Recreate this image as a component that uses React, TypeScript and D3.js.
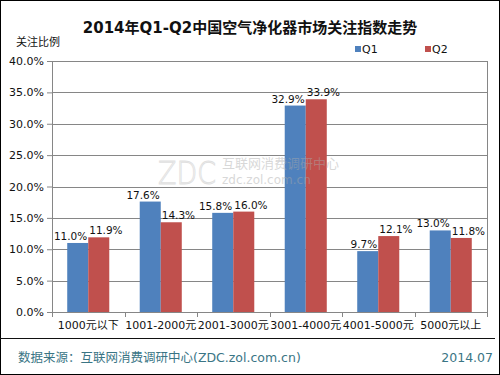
import React, { useEffect, useRef } from 'react';
import * as d3 from 'd3';

const categories = ['1000元以下', '1001-2000元', '2001-3000元', '3001-4000元', '4001-5000元', '5000元以上'];
const seriesNames = ['Q1', 'Q2'];
const q1Values = [11.0, 17.6, 15.8, 32.9, 9.7, 13.0];
const q2Values = [11.9, 14.3, 16.0, 33.9, 12.1, 11.8];
const yTicks = [0, 5, 10, 15, 20, 25, 30, 35, 40];
const colors = ['#4F81BD', '#C0504D'];

const FONT = '"DejaVu Sans", "Noto Sans CJK SC", sans-serif';

function App() {
  const ref = useRef<SVGSVGElement>(null);

  useEffect(() => {
    const svg = d3.select(ref.current);
    svg.selectAll('*').remove();

    const width = 500;
    const height = 375;
    const margin = { top: 61, right: 13, bottom: 63, left: 52 };
    const innerW = width - margin.left - margin.right;
    const innerH = height - margin.top - margin.bottom;

    svg.append('rect')
      .attr('x', 0.5).attr('y', 0.5)
      .attr('width', width - 1).attr('height', height - 1)
      .attr('fill', '#fff').attr('stroke', '#000');

    svg.append('text')
      .attr('x', 250).attr('y', 33)
      .attr('text-anchor', 'middle')
      .attr('font-family', FONT)
      .attr('font-size', 15).attr('font-weight', 'bold')
      .attr('fill', '#111')
      .text('2014年Q1-Q2中国空气净化器市场关注指数走势');

    svg.append('text')
      .attr('x', 16).attr('y', 46)
      .attr('font-family', FONT)
      .attr('font-size', 11)
      .attr('fill', '#111')
      .text('关注比例');

    const g = svg.append('g').attr('transform', `translate(${margin.left},${margin.top})`);

    const x0 = d3.scaleBand().domain(categories).range([0, innerW]).paddingInner(0.42).paddingOuter(0.21);
    const x1 = d3.scaleBand().domain(seriesNames).range([0, x0.bandwidth()]);
    const y = d3.scaleLinear().domain([0, 40]).range([innerH, 0]);

    // grid
    g.selectAll('line.grid')
      .data(yTicks)
      .join('line')
      .attr('x1', 0).attr('x2', innerW)
      .attr('y1', d => Math.round(y(d)) + 0.5).attr('y2', d => Math.round(y(d)) + 0.5)
      .attr('stroke', '#868686');

    g.append('line')
      .attr('x1', innerW + 0.5).attr('x2', innerW + 0.5)
      .attr('y1', 0).attr('y2', innerH)
      .attr('stroke', '#868686');

    const yAxis = g.append('g')
      .call(d3.axisLeft(y).tickValues(yTicks).tickSize(5).tickFormat(d => (d as number).toFixed(1) + '%'));
    yAxis.select('.domain').attr('stroke', '#868686');
    yAxis.selectAll('line').attr('stroke', '#868686');
    yAxis.selectAll('text').attr('font-family', FONT).attr('font-size', 11).attr('fill', '#111');

    // watermark
    const wm = svg.append('g').attr('opacity', 0.45);
    wm.append('text').attr('x', 158).attr('y', 184)
      .attr('font-family', FONT).attr('font-size', 32).attr('font-weight', 100)
      .attr('textLength', 58).attr('lengthAdjust', 'spacingAndGlyphs')
      .attr('fill', 'none').attr('stroke', '#bbb').attr('stroke-width', 1)
      .text('ZDC');
    wm.append('text').attr('x', 222).attr('y', 168)
      .attr('font-family', FONT).attr('font-size', 13)
      .attr('fill', '#aaa')
      .text('互联网消费调研中心');
    wm.append('text').attr('x', 222).attr('y', 184)
      .attr('font-family', FONT).attr('font-size', 12)
      .attr('fill', '#aaa')
      .text('zdc.zol.com.cn');

    const data = categories.map((c, i) => ({ cat: c, vals: [q1Values[i], q2Values[i]] }));

    const groups = g.selectAll('g.grp')
      .data(data)
      .join('g')
      .attr('transform', d => `translate(${x0(d.cat)},0)`);

    groups.selectAll('rect')
      .data(d => d.vals.map((v, j) => ({ v, j })))
      .join('rect')
      .attr('x', d => x1(seriesNames[d.j])!)
      .attr('y', d => y(d.v))
      .attr('width', x1.bandwidth())
      .attr('height', d => innerH - y(d.v))
      .attr('fill', d => colors[d.j]);

    // Q1 labels end at the bar's right edge, Q2 labels start at the bar's left edge
    groups.selectAll('text.lbl')
      .data(d => d.vals.map((v, j) => ({ v, j })))
      .join('text')
      .attr('class', 'lbl')
      .attr('x', d => d.j === 0 ? x1(seriesNames[0])! + x1.bandwidth() - 1 : x1(seriesNames[1])! + 1)
      .attr('y', d => y(d.v) - 3)
      .attr('text-anchor', d => d.j === 0 ? 'end' : 'start')
      .attr('font-family', FONT)
      .attr('font-size', 10.5)
      .attr('fill', '#111')
      .text(d => d.v.toFixed(1) + '%');

    // x axis
    const xAxis = g.append('g')
      .attr('transform', `translate(0,${innerH})`)
      .call(d3.axisBottom(x0).tickSize(0));
    xAxis.select('.domain').attr('stroke', '#868686');
    xAxis.selectAll('text')
      .attr('font-family', FONT).attr('font-size', 11).attr('fill', '#111')
      .attr('dy', '1.25em');
    const step = innerW / categories.length;
    g.selectAll('line.xtick')
      .data(d3.range(categories.length + 1))
      .join('line')
      .attr('x1', d => Math.round(d * step) + 0.5).attr('x2', d => Math.round(d * step) + 0.5)
      .attr('y1', innerH).attr('y2', innerH + 5)
      .attr('stroke', '#868686');

    // legend
    const legend = svg.append('g');
    seriesNames.forEach((s, i) => {
      const lx = 355 + i * 70;
      legend.append('rect').attr('x', lx).attr('y', 46).attr('width', 6).attr('height', 6).attr('fill', colors[i]);
      legend.append('text').attr('x', lx + 7).attr('y', 53)
        .attr('font-family', FONT).attr('font-size', 11).attr('fill', '#111').text(s);
    });

    // footer
    svg.append('line')
      .attr('x1', 0).attr('x2', 495)
      .attr('y1', 338.5).attr('y2', 338.5)
      .attr('stroke', '#111');
    svg.append('text')
      .attr('x', 18).attr('y', 362)
      .attr('font-family', FONT).attr('font-size', 12.5)
      .attr('fill', '#3a7585')
      .text('数据来源：互联网消费调研中心(ZDC.zol.com.cn)');
    svg.append('text')
      .attr('x', 493).attr('y', 362)
      .attr('text-anchor', 'end')
      .attr('font-family', FONT).attr('font-size', 12.5)
      .attr('fill', '#3a7585')
      .text('2014.07');
  }, []);

  return <svg ref={ref} width={500} height={375} style={{ position: 'absolute', left: 0, top: 0 }} />;
}

export default App;
